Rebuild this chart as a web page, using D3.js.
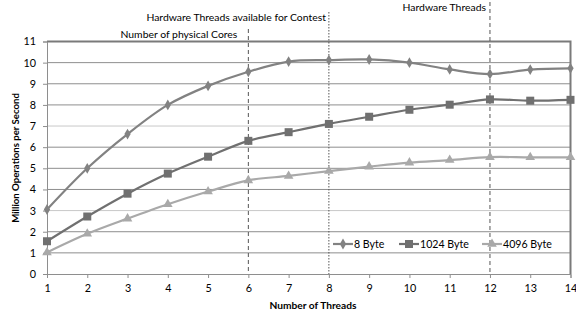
<!DOCTYPE html>
<meta charset="utf-8">
<style>
body { margin: 0; background: #fff; }
text { font-family: Lato, sans-serif; fill: #000; }
.title { font-size: 10.2px; font-weight: bold; }
.note { font-size: 10.4px; }
.legend text { font-size: 10.6px; }
</style>
<body>
<svg width="576" height="317"></svg>
<script src="https://cdn.jsdelivr.net/npm/d3@7"></script>
<script>
// chart values
var threads = [1, 2, 3, 4, 5, 6, 7, 8, 9, 10, 11, 12, 13, 14];
var byte8 = [3.05, 5.0, 6.62, 8.0, 8.9, 9.57, 10.05, 10.12, 10.15, 10.0, 9.68, 9.46, 9.67, 9.73];
var byte1024 = [1.55, 2.72, 3.8, 4.75, 5.55, 6.3, 6.71, 7.1, 7.44, 7.77, 8.01, 8.26, 8.2, 8.24];
var byte4096 = [1.02, 1.9, 2.62, 3.3, 3.9, 4.43, 4.64, 4.87, 5.08, 5.27, 5.39, 5.53, 5.52, 5.52];
var yTicks = [0, 1, 2, 3, 4, 5, 6, 7, 8, 9, 10, 11];
var markers = [
  {x: 6, label: "Number of physical Cores", dash: "4,3", top: 29, ty: 38, gap: 11},
  {x: 8, label: "Hardware Threads available for Contest", dash: "1.5,1.5", top: 12, ty: 21, gap: 3},
  {x: 12, label: "Hardware Threads", dash: "4,3", top: 2, ty: 11, gap: 4}
];

var series = [
  {name: "8 Byte", values: byte8, color: "#828282", symbol: d3.symbolDiamond, size: 34},
  {name: "1024 Byte", values: byte1024, color: "#707070", symbol: d3.symbolSquare, size: 64},
  {name: "4096 Byte", values: byte4096, color: "#a9a9a9", symbol: d3.symbolTriangle, size: 40}
];

var svg = d3.select("svg");
var x = d3.scaleLinear().domain([1, 14]).range([47, 570.5]);
var y = d3.scaleLinear().domain([0, 11]).range([274, 41.5]);

// grid lines
svg.append("g").selectAll("line")
    .data(yTicks.slice(1, -1))
    .enter().append("line")
    .attr("x1", x(1)).attr("x2", x(14))
    .attr("y1", function(d) { return y(d); })
    .attr("y2", function(d) { return y(d); })
    .attr("stroke", function(d) { return (d == 3 || d == 7) ? "#c8c8c8" : "#8e8e8e"; })
    .attr("stroke-width", 1);

// top and right border
svg.append("path")
    .attr("d", "M" + x(1) + "," + y(11) + "H" + x(14) + "V" + y(0))
    .attr("fill", "none")
    .attr("stroke", "#7a7a7a")
    .attr("stroke-width", 2);

// axes
var xAxis = svg.append("g")
    .attr("transform", "translate(0," + y(0) + ")")
    .call(d3.axisBottom(x).tickValues(threads).tickSize(4).tickPadding(6).tickFormat(d3.format("d")));
var yAxis = svg.append("g")
    .attr("transform", "translate(" + x(1) + ",0)")
    .call(d3.axisLeft(y).tickValues(yTicks).tickSize(4).tickPadding(7));
[xAxis, yAxis].forEach(function(a) {
  a.select(".domain").attr("stroke", "#8e8e8e");
  a.selectAll(".tick line").attr("stroke", "#8e8e8e");
  a.selectAll(".tick text").attr("font-family", "Lato").attr("font-size", 10.8).attr("fill", "#000");
});

// vertical reference lines and notes
var mk = svg.append("g");
markers.forEach(function(m) {
  mk.append("line")
      .attr("x1", x(m.x)).attr("x2", x(m.x))
      .attr("y1", m.top).attr("y2", y(0))
      .attr("stroke", "#555")
      .attr("stroke-width", 1)
      .attr("stroke-dasharray", m.dash);
  mk.append("text")
      .attr("class", "note")
      .attr("x", x(m.x) - m.gap)
      .attr("y", m.ty)
      .attr("text-anchor", "end")
      .text(m.label);
});

// series
var line = d3.line()
    .x(function(d, i) { return x(threads[i]); })
    .y(function(d) { return y(d); })
    .curve(d3.curveCatmullRom.alpha(0.5));

series.forEach(function(s) {
  svg.append("path")
      .datum(s.values)
      .attr("fill", "none")
      .attr("stroke", s.color)
      .attr("stroke-width", 2.2)
      .attr("d", line);
  svg.append("g").selectAll("path")
      .data(s.values)
      .enter().append("path")
      .attr("transform", function(d, i) { return "translate(" + x(threads[i]) + "," + y(d) + ")"; })
      .attr("d", d3.symbol().type(s.symbol).size(s.size))
      .attr("fill", s.color);
});

// legend
var legendX = [333, 399, 482];
var legend = svg.append("g").attr("class", "legend");
series.forEach(function(s, i) {
  var g = legend.append("g").attr("transform", "translate(" + legendX[i] + ",244)");
  g.append("line").attr("x1", 0).attr("x2", 20).attr("stroke", s.color).attr("stroke-width", 2.2);
  g.append("path").attr("transform", "translate(10,0)")
      .attr("d", d3.symbol().type(s.symbol).size(s.size)).attr("fill", s.color);
  g.append("text").attr("x", 21).attr("y", 4).text(s.name);
});

// axis titles
svg.append("text")
    .attr("class", "title")
    .attr("x", 313)
    .attr("y", 309)
    .attr("text-anchor", "middle")
    .text("Number of Threads");
svg.append("text")
    .attr("class", "title")
    .attr("font-size", 9.6)
    .style("font-size", "9.6px")
    .attr("transform", "translate(19,158) rotate(-90)")
    .attr("text-anchor", "middle")
    .text("Million Operations per Second");
</script>
</body>
